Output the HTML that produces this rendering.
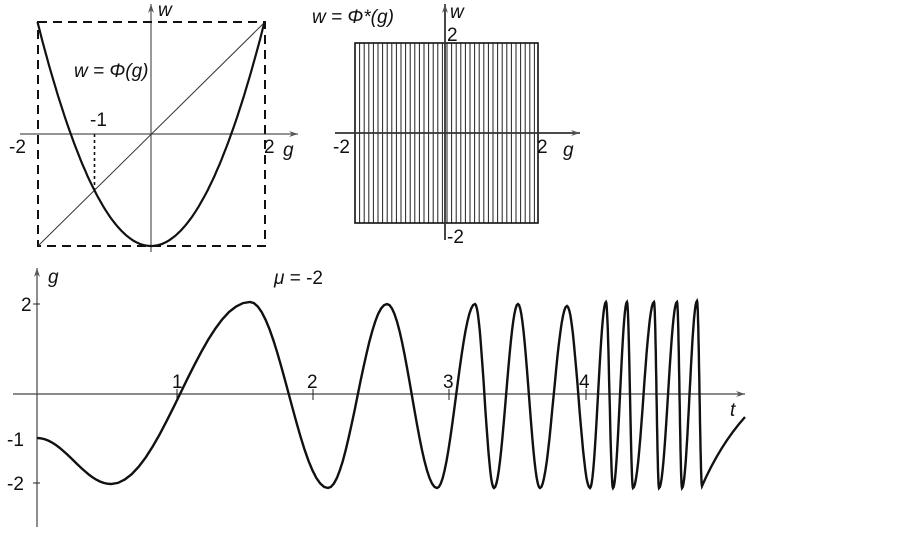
<!DOCTYPE html>
<html><head><meta charset="utf-8"><style>
html,body{margin:0;padding:0;background:#fff;}
svg{display:block;font-family:"Liberation Sans",sans-serif;}
text{font-size:19px;fill:#111;}
.i{font-style:italic;}
</style></head><body>
<svg id="s" width="903" height="533" viewBox="0 0 903 533" xmlns="http://www.w3.org/2000/svg">
<defs><marker id="a" markerUnits="userSpaceOnUse" markerWidth="9" markerHeight="6" refX="9" refY="3" orient="auto"><path d="M0,0 L9,3 L0,6 L3,3 Z" fill="#555"/></marker></defs>
<line x1="20" y1="134" x2="298" y2="134" stroke="#555" stroke-width="1.2" marker-end="url(#a)"/>
<line x1="151" y1="252" x2="151" y2="4" stroke="#555" stroke-width="1.2" marker-end="url(#a)"/>
<rect x="38" y="22" width="227" height="224" fill="none" stroke="#111" stroke-width="2" stroke-dasharray="9,6"/>
<line x1="38" y1="246" x2="265" y2="22" stroke="#333" stroke-width="1"/>
<line x1="94.5" y1="134" x2="94.5" y2="190" stroke="#111" stroke-width="1.6" stroke-dasharray="3,3"/>
<path id="par" fill="none" stroke="#111" stroke-width="2.2"/>
<text x="74" y="77" class="i">w = Φ(g)</text>
<text x="90" y="126">-1</text>
<text x="9" y="153">-2</text>
<text x="264" y="153">2</text>
<text x="283" y="156" class="i">g</text>
<text x="158" y="16" class="i">w</text>
<g id="vl"></g>
<rect x="355" y="43" width="183" height="180" fill="none" stroke="#111" stroke-width="1.6"/>
<line x1="335" y1="133" x2="580" y2="133" stroke="#333" stroke-width="1.8" marker-end="url(#a)"/>
<line x1="445" y1="240" x2="445" y2="4" stroke="#333" stroke-width="1.8" marker-end="url(#a)"/>
<text x="312" y="23" class="i">w = Φ*(g)</text>
<text x="450" y="18" class="i">w</text>
<text x="447" y="41">2</text>
<text x="447" y="243">-2</text>
<text x="333" y="153">-2</text>
<text x="537" y="153">2</text>
<text x="563" y="156" class="i">g</text>
<line x1="13" y1="394" x2="745" y2="394" stroke="#444" stroke-width="1.2" marker-end="url(#a)"/>
<line x1="37" y1="527" x2="37" y2="268" stroke="#444" stroke-width="1.2" marker-end="url(#a)"/>
<line x1="177" y1="389" x2="177" y2="400" stroke="#222"/>
<line x1="313" y1="389" x2="313" y2="400" stroke="#222"/>
<line x1="449" y1="389" x2="449" y2="400" stroke="#222"/>
<line x1="586" y1="389" x2="586" y2="400" stroke="#222"/>
<line x1="33" y1="304" x2="40" y2="304" stroke="#222"/>
<line x1="33" y1="483" x2="40" y2="483" stroke="#222"/>
<text x="172" y="388">1</text>
<text x="307" y="388">2</text>
<text x="443" y="388">3</text>
<text x="579" y="388">4</text>
<text x="730" y="416" class="i">t</text>
<text x="21" y="311">2</text>
<text x="7" y="446">-1</text>
<text x="7" y="490">-2</text>
<text x="48" y="283" class="i">g</text>
<text x="274" y="284"><tspan class="i">μ</tspan> = -2</text>
<path id="w" fill="none" stroke="#111" stroke-width="2.4"/>
</svg>
<script>
var d="";for(var i=0;i<=100;i++){var g=-2+4*i/100,w=g*g-2;d+=(i?"L":"M")+(151+g*56.75).toFixed(1)+","+(134-w*56).toFixed(1);}
document.getElementById("par").setAttribute("d",d);
var h="";for(var x=355;x<=538;x+=4.6){h+='<line x1="'+x.toFixed(1)+'" y1="43" x2="'+x.toFixed(1)+'" y2="223" stroke="#222" stroke-width="1"/>';}
document.getElementById("vl").innerHTML=h;
var E=[[37,438],[111,484],[250,302],[328,488],[387,304],[437,488],[475,304],[494,488],[518,304],[540,488],[567,306],[590,488],[606,302],[613,488],[627,302],[633,488],[654,302],[659,488],[677,302],[682,488],[697,301],[702,486]];
var p="M37,438";
for(var k=0;k<E.length-1;k++){var a=E[k],b=E[k+1];for(var j=1;j<=20;j++){var u=j/20;var x=a[0]+(b[0]-a[0])*u;var y=a[1]+(b[1]-a[1])*(1-Math.cos(Math.PI*u))/2;p+="L"+x.toFixed(1)+","+y.toFixed(1);}}
p+="Q720,445 745,417";
document.getElementById("w").setAttribute("d",p);
</script>
</body></html>
